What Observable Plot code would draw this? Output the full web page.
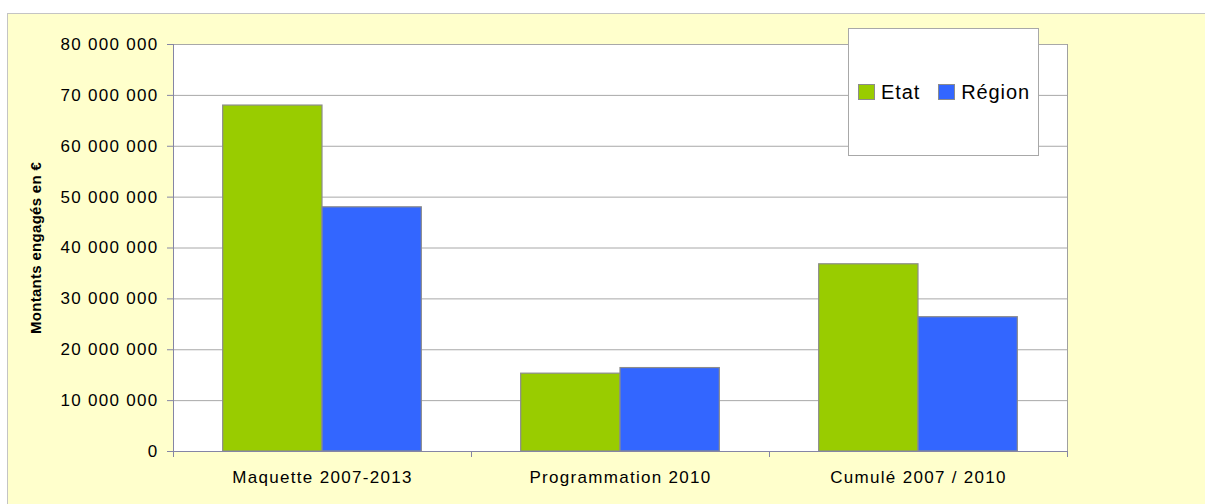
<!DOCTYPE html>
<html>
<head>
<meta charset="utf-8">
<script src="https://cdn.jsdelivr.net/npm/d3@7"></script>
<script src="https://cdn.jsdelivr.net/npm/@observablehq/plot@0.6"></script>
<style>
  html, body { margin: 0; padding: 0; background: #ffffff; width: 1205px; height: 504px; overflow: hidden; }
  #bg { position: absolute; left: 7px; top: 13px; width: 1210px; height: 500px; background: #FFFFCC; border-left: 1px solid #c4c4c4; border-top: 1px solid #c4c4c4; }
  #chart { position: absolute; left: 0; top: 0; }
  #chart svg text { font-family: "Liberation Sans", Arial, sans-serif; }
  .ticklab text { font-size: 17px; letter-spacing: 1.3px; }
  .ytitle text { font-size: 15px; font-weight: bold; letter-spacing: 0.3px; }
  #legend { position: absolute; left: 848px; top: 28px; width: 180px; height: 126px; background: #ffffff; border: 1px solid #a8a8a8; display: flex; align-items: center; padding-left: 9px; box-sizing: content-box; font-family: "Liberation Sans", Arial, sans-serif; font-size: 20px; letter-spacing: 0.9px; color: #000; }
  #legend .sw { width: 15px; height: 14px; border: 1px solid #8c8c8c; display: inline-block; flex: none; }
  #legend .lab { margin-left: 6px; margin-right: 18px; white-space: nowrap; }
</style>
</head>
<body>
<div id="bg"></div>
<div id="chart"></div>
<div id="legend"></div>
<script>
const categories = ["Maquette 2007-2013", "Programmation 2010", "Cumulé 2007 / 2010"];
const seriesNames = ["Etat", "Région"];
const etatValues = [68000000, 15300000, 36800000];
const regionValues = [48000000, 16400000, 26400000];
const seriesColors = ["#99CC00", "#3366FF"];
const yTicks = [0, 10000000, 20000000, 30000000, 40000000, 50000000, 60000000, 70000000, 80000000];
const yTitle = "Montants engagés en €";

const W = 1205, H = 504;
const mLeft = 173, mRight = 138, mTop = 44, mBottom = 53;
const bw = (W - mLeft - mRight) / categories.length;

const etatData = categories.map((c, i) => ({category: c, value: etatValues[i]}));
const regionData = categories.map((c, i) => ({category: c, value: regionValues[i]}));

const fmt = d => d3.format(",")(d).replace(/,/g, " ");
const axisColor = "#8585a5";

const plot = Plot.plot({
  width: W,
  height: H,
  marginLeft: mLeft,
  marginRight: mRight,
  marginTop: mTop,
  marginBottom: mBottom,
  style: {background: "transparent", overflow: "visible"},
  x: {type: "band", domain: categories, padding: 0, axis: null},
  y: {domain: [0, 80000000], axis: null},
  marks: [
    Plot.frame({fill: "white", stroke: "#a0a0a0"}),
    Plot.ruleY(yTicks.filter(d => d > 0), {stroke: "#a8a8a8", strokeWidth: 1}),
    Plot.barY(etatData, {x: "category", y: "value", fill: seriesColors[0], stroke: "#8c8c8c", strokeWidth: 1.2, insetLeft: bw / 6, insetRight: bw / 2}),
    Plot.barY(regionData, {x: "category", y: "value", fill: seriesColors[1], stroke: "#8c8c8c", strokeWidth: 1.2, insetLeft: bw / 2, insetRight: bw / 6}),
    Plot.frame({anchor: "left", stroke: axisColor}),
    Plot.frame({anchor: "bottom", stroke: axisColor}),
    Plot.axisY({ticks: yTicks, tickFormat: fmt, tickSize: 6, tickPadding: 9, stroke: axisColor, fill: "black", label: null, className: "ticklab"}),
    Plot.axisX({tickSize: 0, tickPadding: 19, fill: "black", label: null, className: "ticklab"}),
    Plot.axisX({tickSize: 6, tickFormat: () => "", stroke: axisColor, label: null, dx: -bw / 2}),
    Plot.axisX({ticks: categories.slice(-1), tickSize: 6, tickFormat: () => "", stroke: axisColor, label: null, dx: bw / 2}),
    Plot.text([yTitle], {text: d => d, frameAnchor: "left", textAnchor: "middle", rotate: -90, dx: -137, fill: "black", className: "ytitle"})
  ]
});
document.getElementById("chart").appendChild(plot);

const legend = document.getElementById("legend");
seriesNames.forEach((name, i) => {
  const sw = document.createElement("span");
  sw.className = "sw";
  sw.style.background = seriesColors[i];
  const lab = document.createElement("span");
  lab.className = "lab";
  lab.textContent = name;
  legend.appendChild(sw);
  legend.appendChild(lab);
});
</script>
</body>
</html>
